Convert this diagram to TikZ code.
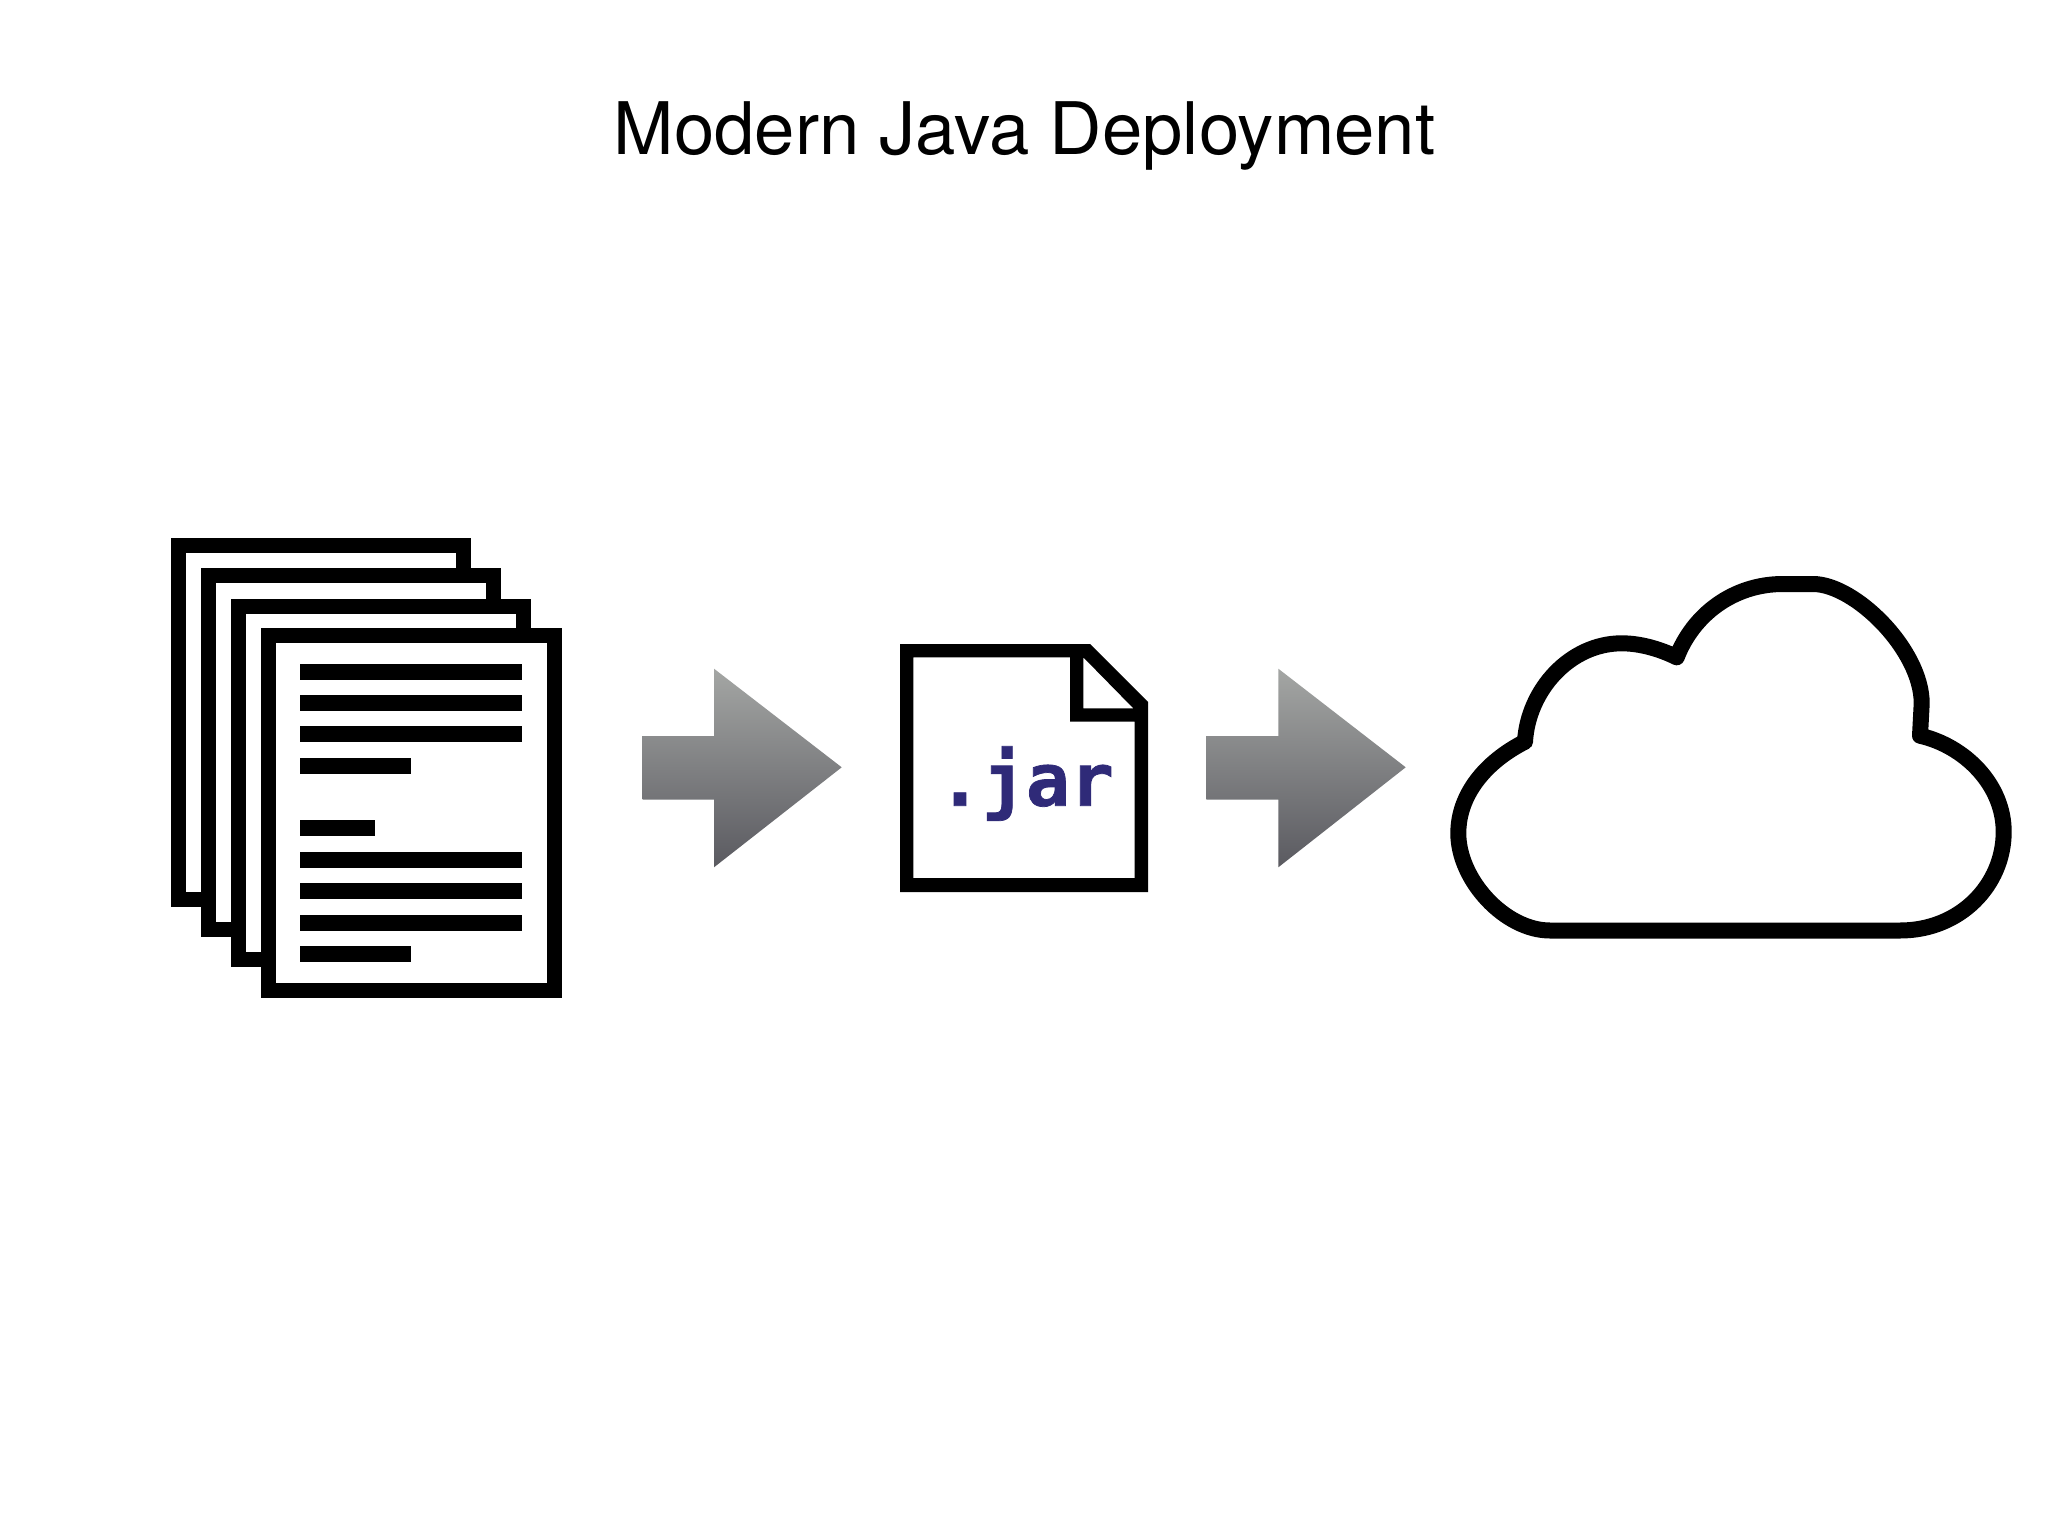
\documentclass[tikz,border=0pt]{standalone}
\usepackage{fontspec}
\setmainfont{TeX Gyre Heros}
\newfontfamily\jarfont[FakeBold=1]{DejaVu Sans Mono Bold}
\definecolor{jarblue}{HTML}{2F2A78}
\definecolor{arrowtop}{HTML}{A4A6A4}
\definecolor{arrowmid}{HTML}{818183}
\definecolor{arrowbot}{HTML}{5A5A60}
\tikzset{
  sheet/.style={draw=black,fill=white,line width=15pt,miter limit=10},
  textbar/.style={fill=black},
  blockarrow/.style={top color=arrowtop,middle color=arrowmid,bottom color=arrowbot,shading angle=0},
  cloudline/.style={draw=black,fill=white,line width=16pt,line join=round},
  titletext/.style={font=\fontsize{72.5}{80}\selectfont,inner sep=0pt,anchor=base,text=black},
  jartext/.style={font=\jarfont\fontsize{73}{80}\selectfont,inner sep=0pt,anchor=base,text=jarblue}
}
\begin{document}
\begin{tikzpicture}[x=1pt,y=-1pt]
\useasboundingbox (0,0) rectangle (2048,1536);
\fill[white] (0,0) rectangle (2048,1536);
\node[titletext] (title) at (1024.5,154) {Modern Java Deployment};
% stack of documents
\draw[sheet] (178.5,545.5) rectangle (463.5,899.5);
\draw[sheet] (208.5,575.5) rectangle (493.5,929.5);
\draw[sheet] (238.5,606.5) rectangle (523.5,959.5);
\draw[sheet] (268.5,635.5) rectangle (554.5,990.5);
\foreach \yc/\xe in {672/522,703/522,734/522,766/411,828/375,860/522,891/522,923/522,954/411}
  \fill[textbar] (300,\yc-8) rectangle (\xe,\yc+8);
% arrows
\shade[blockarrow] (642.7,736) -- (714,736) -- (714,668.7) -- (841.7,767.3) -- (714,867.3) -- (714,799.7) -- (642.7,799.7) -- cycle;
\shade[blockarrow] (1206.3,736) -- (1278.3,736) -- (1278.3,668.7) -- (1405.7,767.3) -- (1278.3,867.3) -- (1278.3,799.7) -- (1206.3,799.7) -- cycle;
% jar file icon
\fill[black,even odd rule]
  (900,644) -- (1090,644) -- (1148,702) -- (1148,892) -- (900,892) -- cycle
  (913.3,657.3) -- (1070,657.3) -- (1070,721.7) -- (1134.7,721.7) -- (1134.7,878) -- (913.3,878) -- cycle
  (1083.3,657.3) -- (1133.3,708.3) -- (1083.3,708.3) -- cycle;
\node[jartext] (jar) at (1026,805.7) {.jar};
% cloud
\draw[cloudline]
  (1525,741.7) .. controls (1528,690) and (1570,643.3) .. (1621.7,643.3)
  .. controls (1640,643.3) and (1660,649) .. (1676.7,657.3)
  .. controls (1693,615) and (1733,584) .. (1783,584)
  -- (1813,584)
  .. controls (1855,584) and (1921.7,650) .. (1921.7,703.3)
  -- (1920,735.7)
  .. controls (1965,746) and (2003.7,785) .. (2003.7,831.7)
  .. controls (2003.7,885) and (1960,930.5) .. (1900,930.5)
  -- (1550,930.5)
  .. controls (1505,930.5) and (1458.3,880) .. (1458.3,833.3)
  .. controls (1458.3,795) and (1485,762) .. (1525,741.7)
  -- cycle;
\end{tikzpicture}
\end{document}
